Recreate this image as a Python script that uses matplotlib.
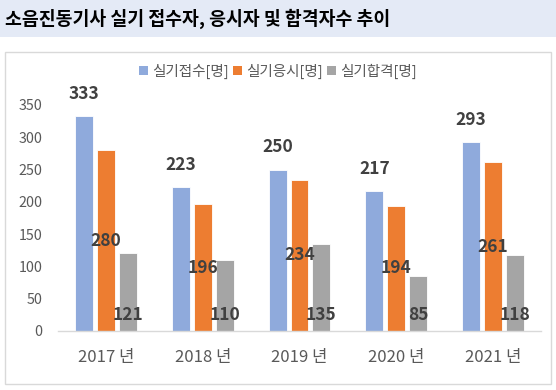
import matplotlib
matplotlib.use("Agg")
import matplotlib.pyplot as plt
from matplotlib.patches import Rectangle, Patch
import numpy as np

plt.rcParams['font.family'] = ['Noto Sans CJK KR', 'DejaVu Sans']

title = "소음진동기사 실기 접수자, 응시자 및 합격자수 추이"
years = ["2017 년", "2018 년", "2019 년", "2020 년", "2021 년"]
series_names = ["실기접수[명]", "실기응시[명]", "실기합격[명]"]
applied = [333, 223, 250, 217, 293]
took = [280, 196, 234, 194, 261]
passed = [121, 110, 135, 85, 118]
colors = ["#8FAADC", "#ED7D31", "#A5A5A5"]
yticks = [0, 50, 100, 150, 200, 250, 300, 350]

W, H = 556, 390
fig = plt.figure(figsize=(W/100, H/100), dpi=100)

# title band
fig.patches.append(Rectangle((0, 1 - 37/H), 1, 37/H, transform=fig.transFigure,
                             facecolor="#E4EAF6", edgecolor="none", zorder=-10))
fig.text(5/W, 1 - 19/H, title, fontsize=13.2, fontweight='bold', color='black',
         va='center', ha='left')
# chart border
fig.patches.append(Rectangle((5/W, 1 - 384/H), 546/W, 332/H, transform=fig.transFigure,
                             facecolor="white", edgecolor="#D9D9D9", linewidth=1, zorder=-10))

left, right, top, bottom = 57.6, 541.4, 105, 331
ax = fig.add_axes([left/W, 1 - bottom/H, (right-left)/W, (bottom-top)/H])
ax.set_facecolor('none')
ax.set_zorder(1)

x = np.arange(len(years))
bw = 0.186
step = 0.227
data = [applied, took, passed]
for i, (vals, c) in enumerate(zip(data, colors)):
    ax.bar(x + (i-1)*step, vals, width=bw, color=c, edgecolor='white',
           linewidth=0.6, label=series_names[i], zorder=2)

lab_kw = dict(fontsize=12.5, fontweight='bold', color='#404040', ha='center',
              va='center', annotation_clip=False, zorder=5)
for xi, v in zip(x, applied):
    ax.annotate(str(v), (xi - step, v), xytext=(0, 16), textcoords='offset points', **lab_kw)
for xi, v in zip(x, took):
    ax.annotate(str(v), (xi, v/2), **lab_kw)
for xi, v in zip(x, passed):
    ax.annotate(str(v), (xi + step, 0), xytext=(0, 11.5), textcoords='offset points', **lab_kw)

ax.set_xlim(-0.5, len(years) - 0.5)
ax.set_ylim(0, 350)
ax.set_yticks(yticks)
ax.set_yticklabels([str(t) for t in yticks], fontsize=10.3, color='#595959')
ax.set_xticks(x)
ax.set_xticklabels(years, fontsize=12, color='#595959')
ax.tick_params(axis='y', length=0, pad=11)
ax.tick_params(axis='x', length=0, pad=13)
for s in ['top', 'right', 'left']:
    ax.spines[s].set_visible(False)
ax.spines['bottom'].set_color('#D9D9D9')
ax.spines['bottom'].set_linewidth(1)

handles = [Patch(facecolor=c, edgecolor='none') for c in colors]
leg = fig.legend(handles, series_names, loc='center', bbox_to_anchor=(278/W, 1 - 71/H),
                 ncol=3, frameon=False, fontsize=10.5, handlelength=0.6, handleheight=0.6,
                 handletextpad=0.3, columnspacing=0.3)
for t in leg.get_texts():
    t.set_color('#595959')

fig.savefig("out.png", dpi=100)
